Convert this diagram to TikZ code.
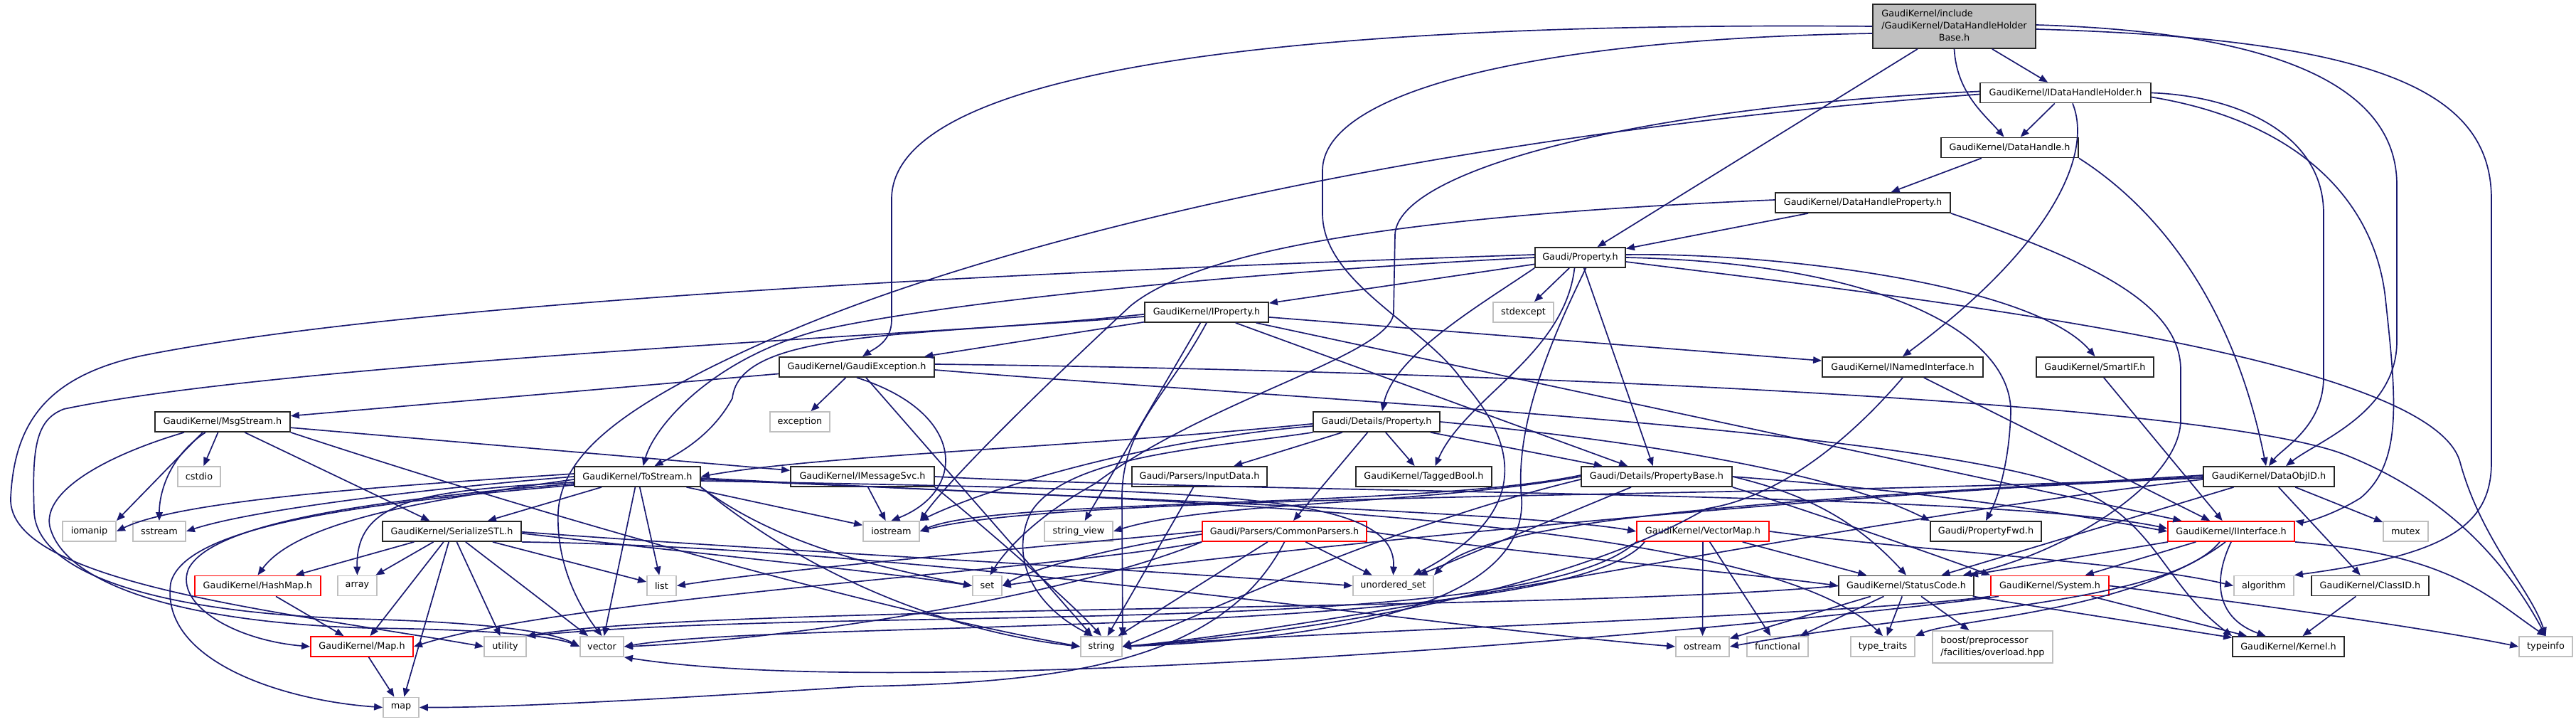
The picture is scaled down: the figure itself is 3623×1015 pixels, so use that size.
\documentclass[tikz,border=0pt]{standalone}
\usepackage{fontspec}
\newfontfamily\dfont{DejaVu Sans}
\usetikzlibrary{arrows.meta}
\definecolor{edgec}{HTML}{191970}
\definecolor{sysgray}{HTML}{BFBFBF}
\definecolor{redb}{HTML}{FF0000}
\tikzset{
 nd/.style={draw=black!85, line width=0.45pt, fill=white, minimum height=7pt, inner sep=0pt, font=\dfont\fontsize{3.2}{4.2}\selectfont, text=black},
 sys/.style={nd, draw=sysgray},
 rd/.style={nd, draw=redb},
 e/.style={draw=edgec, line width=0.42pt, -{Triangle[length=3pt,width=2.4pt]}},
}
\begin{document}
\begin{tikzpicture}[x=0.25pt,y=-0.25pt]
\useasboundingbox (0,0) rectangle (3623,1015);
\fill[white] (0,0) rectangle (3623,1015);
% nodes
\node[nd,fill=sysgray,minimum width=57.25pt,minimum height=15.5pt] (top) at (2748.5,37) {\begin{tabular}{@{}l@{}}GaudiKernel/include\\/GaudiKernel/DataHandleHolder\\\multicolumn{1}{@{}c@{}}{Base.h}\end{tabular}};
\node[nd,minimum width=60pt] (idhh) at (2905,130.5) {GaudiKernel/IDataHandleHolder.h};
\node[nd,minimum width=48.25pt] (dh) at (2826.5,207.5) {GaudiKernel/DataHandle.h};
\node[nd,minimum width=61.5pt] (dhp) at (2620,285) {GaudiKernel/DataHandleProperty.h};
\node[nd,minimum width=31.75pt] (prop) at (2222.5,362) {Gaudi/Property.h};
\node[nd,minimum width=43.5pt] (iprop) at (1697,439) {GaudiKernel/IProperty.h};
\node[sys,minimum width=21.25pt] (stdexcept) at (2142.5,439) {stdexcept};
\node[nd,minimum width=54.5pt] (gexc) at (1205,516) {GaudiKernel/GaudiException.h};
\node[nd,minimum width=56.5pt] (inamed) at (2676,516) {GaudiKernel/INamedInterface.h};
\node[nd,minimum width=41.25pt] (smartif) at (2946.5,516) {GaudiKernel/SmartIF.h};
\node[nd,minimum width=47.5pt] (msgs) at (313,593) {GaudiKernel/MsgStream.h};
\node[sys,minimum width=21pt] (exception) at (1125,593) {exception};
\node[nd,minimum width=44.5pt] (dprop) at (1936,593) {Gaudi/Details/Property.h};
\node[nd,minimum width=46pt] (dobj) at (3191,670) {GaudiKernel/DataObjID.h};
\node[sys,minimum width=15pt] (cstdio) at (280,670) {cstdio};
\node[nd,minimum width=44.25pt] (tostream) at (896.5,670) {GaudiKernel/ToStream.h};
\node[nd,minimum width=50.5pt] (imsg) at (1213,670) {GaudiKernel/IMessageSvc.h};
\node[nd,minimum width=47.5pt] (inputdata) at (1687,670) {Gaudi/Parsers/InputData.h};
\node[nd,minimum width=47.75pt] (tagged) at (2002.5,670) {GaudiKernel/TaggedBool.h};
\node[nd,minimum width=53pt] (pbase) at (2330,670) {Gaudi/Details/PropertyBase.h};
\node[sys,minimum width=18.75pt] (iomanip) at (125.5,747) {iomanip};
\node[sys,minimum width=18.5pt] (sstream) at (224,747) {sstream};
\node[nd,minimum width=48.75pt] (serstl) at (635.5,747) {GaudiKernel/SerializeSTL.h};
\node[sys,minimum width=19.75pt] (iostream) at (1253.5,747) {iostream};
\node[sys,minimum width=24pt] (strview) at (1517,747) {string\_view};
\node[rd,minimum width=57.75pt] (cparsers) at (1806.5,747) {Gaudi/Parsers/CommonParsers.h};
\node[rd,minimum width=46.5pt] (vmap) at (2395,747) {GaudiKernel/VectorMap.h};
\node[nd,minimum width=39pt] (pfwd) at (2793,747) {Gaudi/PropertyFwd.h};
\node[rd,minimum width=44.5pt] (iint) at (3138,747) {GaudiKernel/IInterface.h};
\node[sys,minimum width=15.75pt] (mutex) at (3383.5,747) {mutex};
\node[rd,minimum width=44.25pt] (hashmap) at (362.5,823.5) {GaudiKernel/HashMap.h};
\node[sys,minimum width=13.75pt] (array) at (502.5,823.5) {array};
\node[sys,minimum width=10.25pt] (list) at (930.5,823.5) {list};
\node[sys,minimum width=10.25pt] (set) at (1388.5,823.5) {set};
\node[sys,minimum width=28.25pt] (uset) at (1959.5,823.5) {unordered\_set};
\node[nd,minimum width=47.5pt] (statuscode) at (2681,823.5) {GaudiKernel/StatusCode.h};
\node[rd,minimum width=41.5pt] (system) at (2883,823.5) {GaudiKernel/System.h};
\node[sys,minimum width=21pt] (algorithm) at (3184,823.5) {algorithm};
\node[nd,minimum width=41.25pt] (classid) at (3333.5,823.5) {GaudiKernel/ClassID.h};
\node[rd,minimum width=36pt] (maph) at (509,909) {GaudiKernel/Map.h};
\node[sys,minimum width=14.75pt] (utility) at (710.5,909) {utility};
\node[sys,minimum width=15.25pt] (vector) at (846.5,909) {vector};
\node[sys,minimum width=14.5pt] (string) at (1549,909) {string};
\node[sys,minimum width=18.75pt] (ostream) at (2394.5,909) {ostream};
\node[sys,minimum width=21.5pt] (functional) at (2500,909) {functional};
\node[sys,minimum width=22.5pt] (typetraits) at (2648,909) {type\_traits};
\node[sys,minimum width=42.25pt,minimum height=11.25pt] (boost) at (2802.5,909.5) {\begin{tabular}{@{}l@{}}boost/preprocessor\\/facilities/overload.hpp\end{tabular}};
\node[nd,minimum width=39.25pt] (kernel) at (3218.5,909) {GaudiKernel/Kernel.h};
\node[sys,minimum width=18.75pt] (typeinfo) at (3580.5,909) {typeinfo};
\node[sys,minimum width=12.5pt] (map) at (564,994.5) {map};
% ---- edges: top
\draw[e] (top) -- (idhh);
\draw[e] (top.south) .. controls (2752,130) and (2790,160) .. ([xshift=-2pt]dh.north);
\draw[e] (top) -- (prop);
\draw[e] (top.west) .. controls (1800,30) and (1254,100) .. (1254,280) -- (1254,450) .. controls (1254,480) and (1230,490) .. ([xshift=2pt]gexc.north);
\draw[e] ([yshift=-2.5pt]top.west) .. controls (2150,55) and (1860,130) .. (1860,240) -- (1860,300) .. controls (1860,400) and (2010,460) .. (2060,540) .. controls (2130,620) and (2160,720) .. ([xshift=7pt]uset.north);
\draw[e] ([yshift=0.5pt]top.east) .. controls (3200,45) and (3371,120) .. (3371,260) -- (3371,480) .. controls (3371,580) and (3260,620) .. ([xshift=6pt]dobj.north);
\draw[e] ([yshift=-1pt]top.east) .. controls (3350,55) and (3504,130) .. (3504,280) -- (3504,650) .. controls (3504,740) and (3440,780) .. (algorithm.north east);
% idhh
\draw[e] (idhh) -- (dh);
\draw[e] (idhh.east) .. controls (3150,135) and (3268,190) .. (3268,300) -- (3268,530) .. controls (3268,600) and (3210,630) .. (dobj.north);
\draw[e] ([yshift=-1.5pt]idhh.east) .. controls (3230,170) and (3340,280) .. (3355,420) .. controls (3370,560) and (3380,650) .. (3320,700) .. controls (3280,725) and (3240,735) .. (iint.north east);
\draw[e] ([xshift=2.5pt]idhh.south) .. controls (2945,220) and (2880,350) .. (inamed.north);
\draw[e] ([yshift=0.5pt]idhh.west) .. controls (2300,150) and (1965,240) .. (1962,330) -- (1960,440) .. controls (1955,500) and (1700,560) .. (1540,680) .. controls (1450,730) and (1410,780) .. ([xshift=1pt]set.north);
\draw[e] ([yshift=-0.5pt]idhh.west) .. controls (2000,190) and (1400,340) .. (1100,470) .. controls (870,570) and (790,640) .. (785,720) .. controls (782,800) and (820,860) .. (vector.north);
% dh
\draw[e] (dh) -- (dhp);
\draw[e] (dh.south east) .. controls (3030,290) and (3140,420) .. ([xshift=-1pt]dobj.north);
% dhp
\draw[e] (dhp) -- (prop);
\draw[e] (dhp.south east) .. controls (2950,370) and (3067,430) .. (3067,520) -- (3067,590) .. controls (3067,680) and (2900,780) .. ([xshift=-4pt]statuscode.north east);
\draw[e] ([yshift=1pt]dhp.west) .. controls (2050,300) and (1700,340) .. (1590,430) .. controls (1450,560) and (1330,680) .. (iostream.north east);
% prop
\draw[e] (prop) -- (iprop);
\draw[e] (prop) -- (stdexcept);
\draw[e] (prop.south west) .. controls (2080,430) and (1960,500) .. ([xshift=2pt]dprop.north);
\draw[e] (prop) -- (pbase);
\draw[e] ([xshift=-2pt]prop.south) .. controls (2200,500) and (2060,560) .. ([xshift=4pt]tagged.north);
\draw[e] ([yshift=1pt]prop.east) .. controls (2500,355) and (2860,400) .. (smartif.north);
\draw[e] (prop.east) .. controls (2650,370) and (2830,470) .. (2828,580) .. controls (2826,650) and (2810,700) .. (pfwd.north);
\draw[e] (prop.west) .. controls (1800,380) and (1350,420) .. (1150,465) .. controls (1000,505) and (920,600) .. ([xshift=2pt]tostream.north);
\draw[e] ([yshift=1pt]prop.west) .. controls (1500,380) and (600,420) .. (200,500) .. controls (60,530) and (20,600) .. (15,700) .. controls (10,820) and (400,860) .. (utility.west);
\draw[e] ([xshift=2pt]prop.south) .. controls (2180,480) and (2130,600) .. (2140,700) .. controls (2150,870) and (1800,900) .. (string.east);
\draw[e] ([yshift=-1.5pt]prop.east) .. controls (2700,420) and (3420,500) .. (3460,650) .. controls (3490,760) and (3560,830) .. (typeinfo.north);
% iprop
\draw[e] (iprop) -- (gexc);
\draw[e] (iprop) -- (inamed);
\draw[e] (iprop) -- (iint);
\draw[e] (iprop) -- (pbase);
\draw[e] ([yshift=-0.7pt]iprop.west) .. controls (1300,475) and (1040,460) .. (1030,560) .. controls (1000,615) and (950,640) .. ([xshift=6pt]tostream.north);
\draw[e] (iprop.south) .. controls (1640,560) and (1578,600) .. (1578,700) -- (string.north east);
\draw[e] (iprop) -- (strview);
\draw[e] ([yshift=-1.5pt]iprop.west) .. controls (1300,470) and (400,510) .. (90,575) .. controls (50,590) and (45,630) .. (48,720) .. controls (52,800) and (200,860) .. (500,870) .. controls (700,875) and (780,890) .. (vector.west);
% gexc
\draw[e] (gexc) -- (msgs);
\draw[e] (gexc) -- (exception);
\draw[e] (gexc.south) .. controls (1360,580) and (1360,690) .. (iostream.north);
\draw[e] (gexc) -- (string);
\draw[e] ([yshift=-1pt]gexc.east) .. controls (1800,560) and (2650,600) .. (2900,680) .. controls (3030,720) and (3040,820) .. (kernel.north west);
\draw[e] ([yshift=1pt]gexc.east) .. controls (2000,520) and (3100,560) .. (3300,640) .. controls (3450,700) and (3530,800) .. (typeinfo.north);
% inamed, smartif
\draw[e] (inamed) -- (iint);
\draw[e] (inamed.south) .. controls (2600,620) and (2500,700) .. (2400,715) .. controls (2150,860) and (1700,900) .. (string.east);
\draw[e] (smartif) -- (iint);
% msgs
\draw[e] (msgs) -- (imsg);
\draw[e] (msgs) -- (serstl);
\draw[e] (msgs) -- (cstdio);
\draw[e] ([xshift=-7pt]msgs.south) -- (iomanip.north east);
\draw[e] ([xshift=-6pt]msgs.south) .. controls (240,640) and (224,690) .. (sstream.north);
\draw[e] (msgs.south east) .. controls (750,720) and (1200,850) .. (string.west);
\draw[e] ([xshift=-13.5pt]msgs.south) .. controls (150,640) and (60,690) .. (70,740) .. controls (90,820) and (250,875) .. (520,883) .. controls (700,885) and (780,895) .. (vector.west);
% dprop
\draw[e] ([yshift=-0.7pt]dprop.west) .. controls (1500,630) and (1150,640) .. (tostream.east);
\draw[e] ([yshift=-1.5pt]dprop.west) .. controls (1600,620) and (1380,690) .. (iostream.north east);
\draw[e] (dprop.south west) .. controls (1700,630) and (1500,640) .. (1450,720) .. controls (1420,780) and (1450,850) .. ([xshift=-3pt]string.north);
\draw[e] (dprop) -- (inputdata);
\draw[e] (dprop) -- (cparsers);
\draw[e] (dprop) -- (tagged);
\draw[e] (dprop) -- (pbase);
\draw[e] (dprop.east) .. controls (2200,610) and (2550,650) .. (pfwd.north west);
% dobj
\draw[e] (dobj) -- (classid);
\draw[e] (dobj) -- (statuscode);
\draw[e] (dobj) -- (mutex);
\draw[e] (dobj.west) .. controls (2600,700) and (1500,690) .. (iostream.east);
\draw[e] ([yshift=-0.5pt]dobj.west) .. controls (2600,690) and (1700,780) .. (set.east);
\draw[e] ([yshift=0.5pt]dobj.west) .. controls (2600,700) and (2100,720) .. (uset.north east);
\draw[e] ([yshift=-1pt]dobj.west) .. controls (2600,730) and (1900,880) .. (string.east);
% tostream
\draw[e] (tostream) -- (serstl);
\draw[e] ([yshift=-1pt]tostream.west) .. controls (620,700) and (420,730) .. (hashmap.north);
\draw[e] ([yshift=-2.5pt]tostream.west) .. controls (560,700) and (300,730) .. (265,800) .. controls (245,850) and (330,900) .. (maph.west);
\draw[e] ([yshift=-0.5pt]tostream.east) .. controls (1500,700) and (2150,720) .. (vmap.west);
\draw[e] ([yshift=-2pt]tostream.west) .. controls (600,690) and (500,700) .. (array.north);
\draw[e] ([yshift=1pt]tostream.west) .. controls (600,680) and (260,700) .. (iomanip.east);
\draw[e] (tostream.west) .. controls (620,685) and (360,715) .. (sstream.east);
\draw[e] (tostream) -- (iostream);
\draw[e] (tostream) -- (list);
\draw[e] ([yshift=-3pt]tostream.west) .. controls (540,705) and (260,735) .. (240,820) .. controls (225,930) and (400,985) .. (map.west);
\draw[e] (tostream.south east) .. controls (1100,770) and (1250,800) .. (set.west);
\draw[e] (tostream.south east) .. controls (1150,820) and (1350,890) .. (string.west);
\draw[e] ([yshift=-1pt]tostream.east) .. controls (1700,705) and (2480,730) .. (typetraits.north);
\draw[e] ([yshift=-1.5pt]tostream.east) .. controls (1700,690) and (1965,690) .. (uset.north);
\draw[e] (tostream) -- (vector);
% imsg, inputdata
\draw[e] (imsg.east) .. controls (1800,695) and (2800,690) .. ([yshift=1pt]iint.west);
\draw[e] (imsg) -- (iostream);
\draw[e] (imsg.south east) .. controls (1360,720) and (1500,840) .. (string.north);
\draw[e] (inputdata) -- (string);
% pbase
\draw[e] (pbase.east) .. controls (2700,690) and (2900,720) .. (iint.west);
\draw[e] (pbase.east) .. controls (2520,690) and (2600,720) .. (statuscode.north);
\draw[e] (pbase) -- (uset);
\draw[e] ([yshift=0.5pt]pbase.west) .. controls (2000,715) and (1400,700) .. (iostream.east);
\draw[e] (pbase.west) .. controls (2000,710) and (1700,705) .. (strview.east);
\draw[e] ([yshift=-1pt]pbase.west) .. controls (1950,740) and (1700,860) .. (string.east);
\draw[e] (pbase.south east) .. controls (2550,720) and (2750,790) .. (system.north west);
% cparsers
\draw[e] (cparsers.west) .. controls (1450,770) and (1100,800) .. (list.east);
\draw[e] ([yshift=-1pt]cparsers.west) .. controls (1560,770) and (1450,800) .. (set.east);
\draw[e] (cparsers.south west) .. controls (1500,800) and (800,840) .. (maph.east);
\draw[e] (cparsers) -- (string);
\draw[e] (cparsers.south west) .. controls (1500,840) and (1100,900) .. (vector.east);
\draw[e] (cparsers.south) .. controls (1720,930) and (1500,960) .. (1210,965) .. controls (900,985) and (700,995) .. (map.east);
\draw[e] (cparsers) -- (uset);
\draw[e] (cparsers.east) .. controls (2150,780) and (2450,805) .. (statuscode.west);
% vmap
\draw[e] (vmap.east) .. controls (2700,775) and (3000,790) .. (algorithm.west);
\draw[e] (vmap) -- (functional);
\draw[e] (vmap) -- (ostream);
\draw[e] (vmap.south west) .. controls (2150,900) and (1200,850) .. (utility.north east);
\draw[e] ([xshift=3pt]vmap.south west) .. controls (2200,900) and (1100,870) .. (vector.east);
\draw[e] (vmap) -- (statuscode);
% serstl
\draw[e] (serstl) -- (hashmap);
\draw[e] (serstl) -- (maph);
\draw[e] (serstl) -- (array);
\draw[e] (serstl) -- (list);
\draw[e] (serstl) -- (map);
\draw[e] (serstl.south east) .. controls (1300,770) and (2000,880) .. (ostream.west);
\draw[e] ([yshift=-0.7pt]serstl.east) .. controls (1000,780) and (1250,805) .. (set.west);
\draw[e] ([yshift=-0.2pt]serstl.east) .. controls (1100,775) and (1600,800) .. (uset.west);
\draw[e] (serstl) -- (utility);
\draw[e] (serstl) -- (vector);
% leaves
\draw[e] (hashmap) -- (maph);
\draw[e] (maph) -- (map);
\draw[e] (statuscode) -- (boost);
\draw[e] (statuscode) -- (ostream);
\draw[e] (statuscode) -- (typetraits);
\draw[e] (statuscode) -- (functional);
\draw[e] (statuscode) -- (kernel);
\draw[e] (statuscode.west) .. controls (2200,860) and (1000,850) .. (utility.north east);
\draw[e] (system) -- (kernel);
\draw[e] (system.south west) .. controls (2600,865) and (1900,885) .. (string.east);
\draw[e] ([xshift=3pt]system.south west) .. controls (2500,880) and (1300,990) .. (vector.south east);
\draw[e] (system.east) .. controls (3100,840) and (3400,880) .. (typeinfo.west);
\draw[e] (iint) -- (statuscode);
\draw[e] (iint) -- (system);
\draw[e] (iint.south) .. controls (3110,820) and (3120,870) .. ([xshift=-8pt]kernel.north);
\draw[e] ([xshift=-4pt]iint.south) .. controls (3050,850) and (2700,860) .. (ostream.east);
\draw[e] ([xshift=-2pt]iint.south) .. controls (3000,860) and (2750,870) .. (typetraits.north east);
\draw[e] (iint.south east) .. controls (3450,780) and (3500,840) .. (typeinfo.north);
\draw[e] (classid) -- (kernel);
\end{tikzpicture}
\end{document}
